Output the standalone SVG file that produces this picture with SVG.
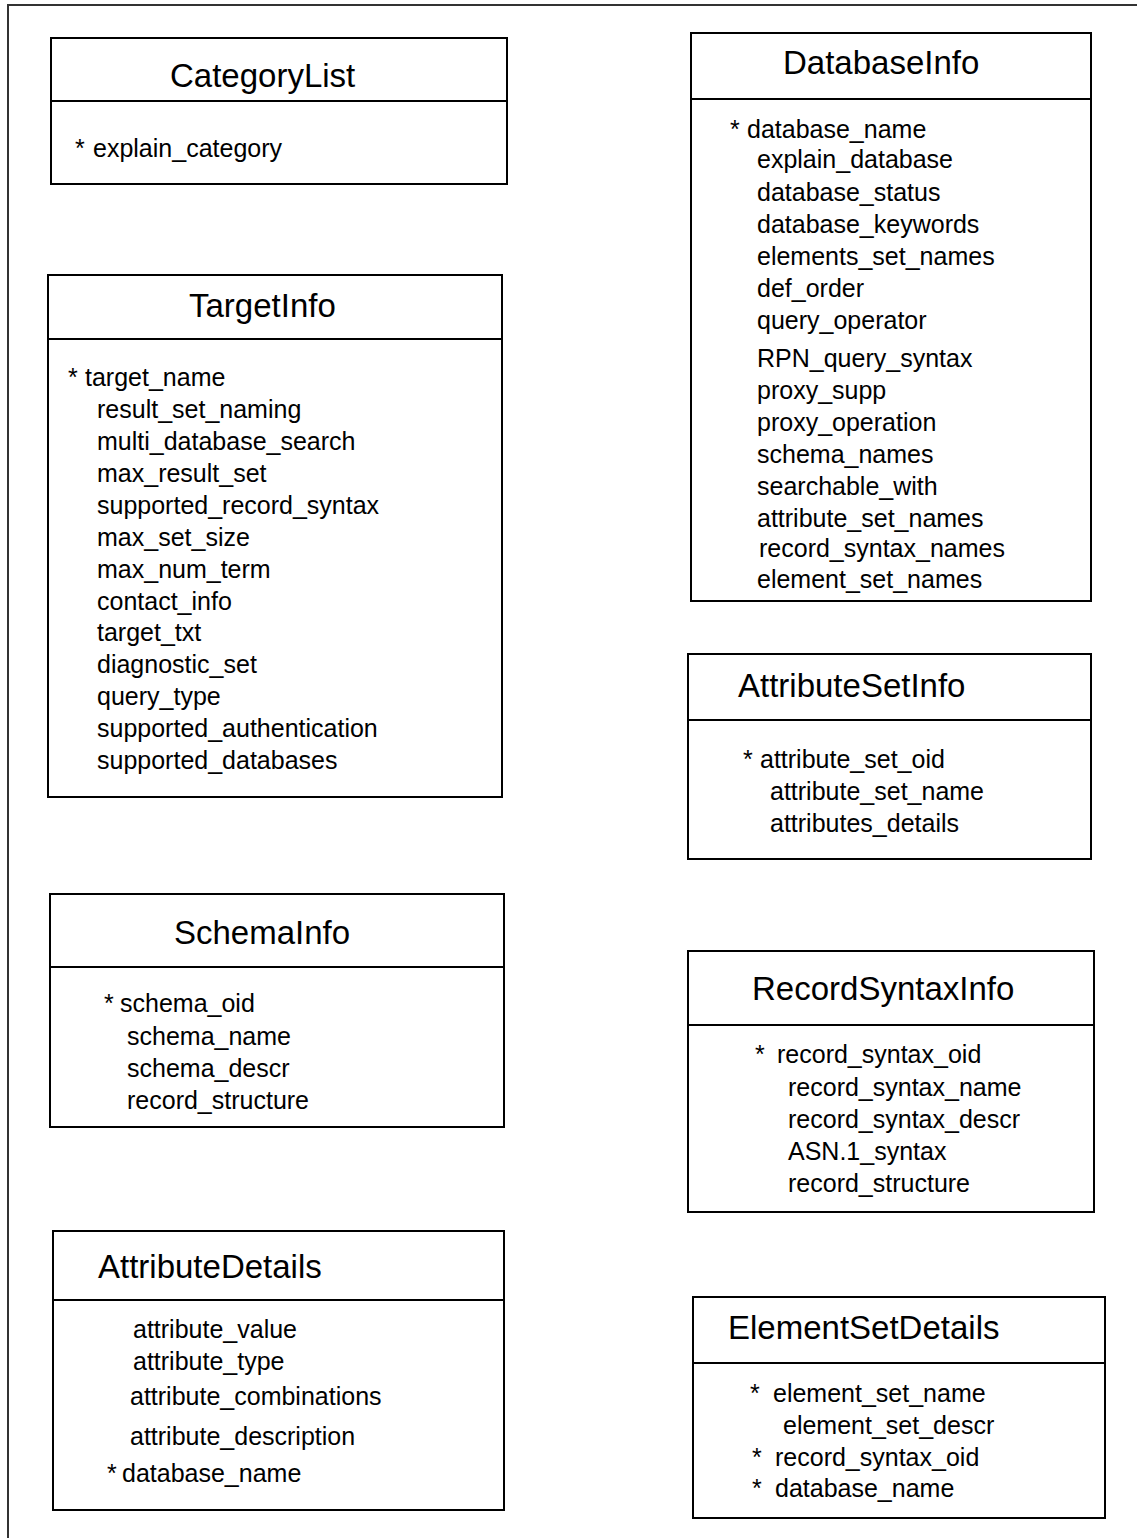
<svg xmlns="http://www.w3.org/2000/svg" width="1137" height="1538" viewBox="0 0 1137 1538">
  <style>
    .box { fill: #ffffff; stroke: #000000; stroke-width: 2; }
    .div { stroke: #000000; stroke-width: 2; }
    .frame { fill: none; stroke: #333333; stroke-width: 2; }
    .title { font-family: "Liberation Sans", Arial, Helvetica, sans-serif; font-size: 33px; fill: #000000; }
    .attr { font-family: "Liberation Sans", Arial, Helvetica, sans-serif; font-size: 25px; fill: #000000; }
  </style>
  <rect x="0" y="0" width="1137" height="1538" fill="#ffffff"/>
  <!-- page frame (top and left edges) -->
  <polyline class="frame" points="8,1538 8,5 1137,5"/>

  <g id="CategoryList">
    <rect class="box" x="51" y="38" width="456" height="146"/>
    <line class="div" x1="51" y1="101" x2="507" y2="101"/>
    <text class="title" x="170" y="87">CategoryList</text>
    <text class="attr" x="75" y="157">*</text>
    <text class="attr" x="93" y="157">explain_category</text>
  </g>

  <g id="DatabaseInfo">
    <rect class="box" x="691" y="33" width="400" height="568"/>
    <line class="div" x1="691" y1="99" x2="1091" y2="99"/>
    <text class="title" x="783" y="74">DatabaseInfo</text>
    <text class="attr" x="730" y="138">*</text>
    <text class="attr" x="747" y="138">database_name</text>
    <text class="attr" x="757" y="168">explain_database</text>
    <text class="attr" x="757" y="201">database_status</text>
    <text class="attr" x="757" y="233">database_keywords</text>
    <text class="attr" x="757" y="265">elements_set_names</text>
    <text class="attr" x="757" y="297">def_order</text>
    <text class="attr" x="757" y="329">query_operator</text>
    <text class="attr" x="757" y="367">RPN_query_syntax</text>
    <text class="attr" x="757" y="399">proxy_supp</text>
    <text class="attr" x="757" y="431">proxy_operation</text>
    <text class="attr" x="757" y="463">schema_names</text>
    <text class="attr" x="757" y="495">searchable_with</text>
    <text class="attr" x="757" y="527">attribute_set_names</text>
    <text class="attr" x="759" y="557">record_syntax_names</text>
    <text class="attr" x="757" y="588">element_set_names</text>
  </g>

  <g id="TargetInfo">
    <rect class="box" x="48" y="275" width="454" height="522"/>
    <line class="div" x1="48" y1="339" x2="502" y2="339"/>
    <text class="title" x="189" y="317">TargetInfo</text>
    <text class="attr" x="68" y="386">*</text>
    <text class="attr" x="85" y="386">target_name</text>
    <text class="attr" x="97" y="418">result_set_naming</text>
    <text class="attr" x="97" y="450">multi_database_search</text>
    <text class="attr" x="97" y="482">max_result_set</text>
    <text class="attr" x="97" y="514">supported_record_syntax</text>
    <text class="attr" x="97" y="546">max_set_size</text>
    <text class="attr" x="97" y="578">max_num_term</text>
    <text class="attr" x="97" y="610">contact_info</text>
    <text class="attr" x="97" y="641">target_txt</text>
    <text class="attr" x="97" y="673">diagnostic_set</text>
    <text class="attr" x="97" y="705">query_type</text>
    <text class="attr" x="97" y="737">supported_authentication</text>
    <text class="attr" x="97" y="769">supported_databases</text>
  </g>

  <g id="AttributeSetInfo">
    <rect class="box" x="688" y="654" width="403" height="205"/>
    <line class="div" x1="688" y1="720" x2="1091" y2="720"/>
    <text class="title" x="738" y="697">AttributeSetInfo</text>
    <text class="attr" x="743" y="768">*</text>
    <text class="attr" x="760" y="768">attribute_set_oid</text>
    <text class="attr" x="770" y="800">attribute_set_name</text>
    <text class="attr" x="770" y="832">attributes_details</text>
  </g>

  <g id="SchemaInfo">
    <rect class="box" x="50" y="894" width="454" height="233"/>
    <line class="div" x1="50" y1="967" x2="504" y2="967"/>
    <text class="title" x="174" y="944">SchemaInfo</text>
    <text class="attr" x="104" y="1012">*</text>
    <text class="attr" x="120" y="1012">schema_oid</text>
    <text class="attr" x="127" y="1045">schema_name</text>
    <text class="attr" x="127" y="1077">schema_descr</text>
    <text class="attr" x="127" y="1109">record_structure</text>
  </g>

  <g id="RecordSyntaxInfo">
    <rect class="box" x="688" y="951" width="406" height="261"/>
    <line class="div" x1="688" y1="1025" x2="1094" y2="1025"/>
    <text class="title" x="752" y="1000">RecordSyntaxInfo</text>
    <text class="attr" x="755" y="1063">*</text>
    <text class="attr" x="777" y="1063">record_syntax_oid</text>
    <text class="attr" x="788" y="1096">record_syntax_name</text>
    <text class="attr" x="788" y="1128">record_syntax_descr</text>
    <text class="attr" x="788" y="1160">ASN.1_syntax</text>
    <text class="attr" x="788" y="1192">record_structure</text>
  </g>

  <g id="AttributeDetails">
    <rect class="box" x="53" y="1231" width="451" height="279"/>
    <line class="div" x1="53" y1="1300" x2="504" y2="1300"/>
    <text class="title" x="98" y="1278">AttributeDetails</text>
    <text class="attr" x="133" y="1338">attribute_value</text>
    <text class="attr" x="133" y="1370">attribute_type</text>
    <text class="attr" x="130" y="1405">attribute_combinations</text>
    <text class="attr" x="130" y="1445">attribute_description</text>
    <text class="attr" x="107" y="1482">*</text>
    <text class="attr" x="122" y="1482">database_name</text>
  </g>

  <g id="ElementSetDetails">
    <rect class="box" x="693" y="1297" width="412" height="221"/>
    <line class="div" x1="693" y1="1363" x2="1105" y2="1363"/>
    <text class="title" x="728" y="1339">ElementSetDetails</text>
    <text class="attr" x="750" y="1402">*</text>
    <text class="attr" x="773" y="1402">element_set_name</text>
    <text class="attr" x="783" y="1434">element_set_descr</text>
    <text class="attr" x="752" y="1466">*</text>
    <text class="attr" x="775" y="1466">record_syntax_oid</text>
    <text class="attr" x="752" y="1497">*</text>
    <text class="attr" x="775" y="1497">database_name</text>
  </g>
</svg>
